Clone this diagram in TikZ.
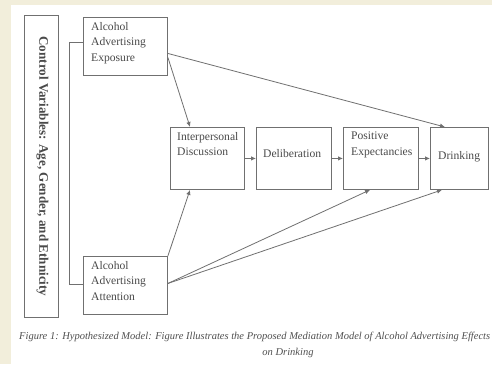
\documentclass[tikz,border=0pt]{standalone}
\usepackage{fontspec}
\setmainfont{Liberation Serif}
\usetikzlibrary{arrows.meta}
\definecolor{bgbeige}{HTML}{F2EEDB}
\definecolor{lncol}{HTML}{707070}
\definecolor{txcol}{HTML}{4A4A4A}
\definecolor{capcol}{HTML}{505050}
\begin{document}
\begin{tikzpicture}[x=1pt,y=-1pt,
  box/.style={draw=lncol,line width=0.9pt,fill=white,inner sep=0pt,anchor=north west},
  txt/.style={text=txcol,font=\fontsize{11.6}{15.5}\selectfont,align=left,inner sep=0pt},
  conn/.style={draw=lncol,line width=0.8pt},
  arr/.style={conn,-{Latex[length=5pt,width=4.5pt]}},
  captext/.style={text=capcol,font=\fontsize{10.5}{12.5}\selectfont\itshape,inner sep=0pt}]
\useasboundingbox (0,0) rectangle (492,364);
\clip (0,0) rectangle (492,364);
\fill[bgbeige] (0,0) rectangle (492,364);
\fill[white] (11,5) rectangle (492,364);
% control variables box
\node[box,minimum width=34pt,minimum height=302pt] (cv) at (24,15) {};
\node[txt,rotate=-90,font=\fontsize{13.1}{15}\selectfont\bfseries] (cvt) at ([xshift=1pt]cv.center) {Control Variables: Age, Gender, and Ethnicity};
% boxes
\node[box,minimum width=84pt,minimum height=58pt] (eb) at (83,17) {};
\node[txt,anchor=north west] (ebt) at (91,22) {Alcohol\\Advertising\\Exposure};
\node[box,minimum width=84pt,minimum height=58pt] (ab) at (83,256) {};
\node[txt,anchor=north west] (abt) at (91,261) {Alcohol\\Advertising\\Attention};
\node[box,minimum width=74pt,minimum height=62pt] (ip) at (170,127) {};
\node[txt,anchor=north west] (ipt) at (177,132) {Interpersonal\\Discussion};
\node[box,minimum width=75pt,minimum height=62pt] (de) at (256,127) {};
\node[txt,anchor=west] (det) at (263,154) {Deliberation};
\node[box,minimum width=75pt,minimum height=62pt] (pe) at (343,127) {};
\node[txt,anchor=north west] (pet) at (351,132) {Positive\\Expectancies};
\node[box,minimum width=58pt,minimum height=62pt] (dr) at (430,127) {};
\node[txt,anchor=west] (drt) at (438,156.6) {Drinking};
% bracket
\coordinate (bt) at (69,42);
\coordinate (bb) at (69,284);
\draw[conn] (eb.west |- bt) -- (bt) -- (bb) -- (ab.west |- bb);
% arrows
\draw[arr] ([yshift=-7pt]eb.east) -- ([xshift=15pt]dr.north west);
\draw[arr] ([yshift=-11pt]eb.east) -- ([xshift=20pt]ip.north west);
\draw[arr] (ab.north east) -- ([xshift=20pt]ip.south west);
\draw[arr] ([yshift=2pt]ab.east) -- ([xshift=27pt]pe.south west);
\draw[arr] ([yshift=2pt]ab.east) -- ([xshift=12pt]dr.south west);
\draw[arr] (ip.east) -- (de.west);
\draw[arr] (de.east) -- (pe.west);
\draw[arr] (pe.east) -- (dr.west);
% caption
\node[captext,anchor=base west] (c1) at (19,339) {Figure 1: Hypothesized Model: Figure Illustrates the Proposed Mediation Model of Alcohol Advertising Effects};
\node[captext,anchor=base] (c2) at (288,355) {on Drinking};
\end{tikzpicture}
\end{document}
